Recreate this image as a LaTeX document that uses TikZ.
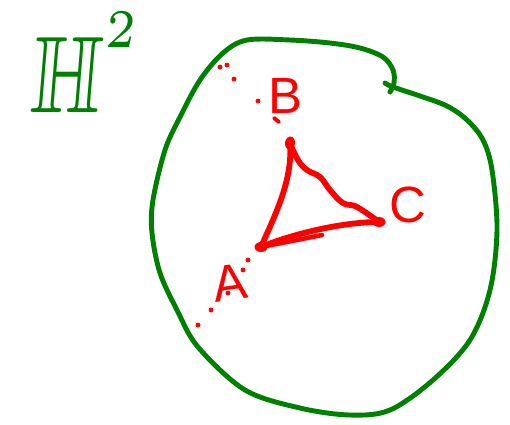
\documentclass[tikz,border=0pt]{standalone}
\usepackage{amssymb}
\usepackage{fontspec}
\setsansfont{Liberation Sans}
\usetikzlibrary{shapes.geometric}
\definecolor{sketchGreen}{HTML}{008000}
\definecolor{sketchRed}{HTML}{FF0000}

\begin{document}
\begin{tikzpicture}[x=0.02cm,y=-0.02cm,
 disk/.style={draw=sketchGreen,line width=2.8pt,line cap=round,line join=round},
 vertex/.style={ellipse,fill=sketchRed,inner sep=0pt,minimum width=2.6mm,minimum height=2mm},
 side/.style={draw=sketchRed,line width=3.3pt,line cap=round,line join=round},
 point/.style={font=\sffamily\fontsize{29}{29}\selectfont,text=sketchRed,inner sep=0pt},
 dot/.style={fill=sketchRed}
]
\useasboundingbox (0,0) rectangle (510,424);

\node[xscale=5.1,yscale=6.2,xslant=0.1,text=sketchGreen,inner sep=0pt,anchor=base west] (space) at (28,112) {$\mathbb{H}^{\raisebox{2.3pt}{$\scriptscriptstyle 2$}}$};

\draw[disk] plot[smooth,tension=0.55] coordinates {(385,83) (393,87) (420,96) (447,106) (467,120) (483,140) (492,170) (497,230) (490,290) (470,340) (433,380) (390,410) (350,415) (300,408) (245,390) (198,347) (177,310) (160,273) (152,233) (153,200) (165,150) (180,117) (200,80) (223,53) (247,40) (290,40) (330,43) (360,48) (383,57) (393,70) (394,83) (390,92)};

\node[vertex] (A) at (261,247) {};
\node[vertex,rotate=80] (B) at (290,143) {};
\node[vertex] (C) at (379,222) {};

\draw[side] (B.center) .. controls (293,180) and (275,215) .. (A.center);
\draw[side] plot[smooth,tension=0.7] coordinates {(B.center) (298,160) (307,170) (320,177) (330,190) (343,203) (357,207) (C.center)};
\draw[side] (A.center) .. controls (290,235) and (340,222) .. (C.center);
\draw[side,line width=2.6pt] (A.center) -- (322,235);

\node[point] (labelB) at (285,96) {B};
\node[point,rotate=8] (labelA) at (230,283) {A};
\node[point] (labelC) at (408,205) {C};

\foreach \p in {(220,67),(227,65),(234,79),(258,101),(248,260),(243,270),(228,293),(211,310),(198,325)}
 \fill[dot] \p circle (1.4pt);
\draw[side,line width=2.2pt] (274,118) -- (279,122);
\end{tikzpicture}
\end{document}
